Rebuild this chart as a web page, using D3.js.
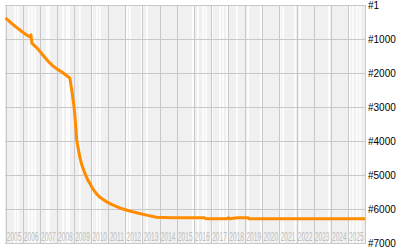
<!DOCTYPE html>
<html>
<head>
<meta charset="utf-8">
<script src="https://cdn.jsdelivr.net/npm/d3@7"></script>
<style>
  body { margin: 0; background: #fff; }
</style>
</head>
<body>
<div id="chart"></div>
<script>
// rank history (decimal years)
const years = [2004.00, 2004.26, 2004.55, 2004.84, 2005.14, 2005.43, 2005.49, 2005.54, 2005.89, 2006.18,
  2006.48, 2006.77, 2007.00, 2007.29, 2007.52, 2007.76, 2007.82, 2007.87, 2007.99, 2008.05,
  2008.11, 2008.16, 2008.34, 2008.46, 2008.63, 2008.81, 2008.92, 2009.10, 2009.33, 2009.50,
  2009.68, 2009.91, 2010.26, 2010.67, 2011.25, 2011.72, 2012.24, 2012.82, 2013.70, 2014.75,
  2015.62, 2015.74, 2016.90, 2017.02, 2017.13, 2017.54, 2018.18, 2018.24, 2025.00];
const ranks = [380, 500, 620, 735, 850, 940, 880, 1120, 1290, 1470,
  1650, 1790, 1880, 1970, 2060, 2150, 2350, 2500, 2940, 3240,
  3620, 3970, 4470, 4710, 4940, 5150, 5240, 5410, 5560, 5650,
  5710, 5790, 5880, 5970, 6060, 6120, 6180, 6240, 6260, 6260,
  6260, 6290, 6290, 6260, 6290, 6260, 6260, 6290, 6290];

// days with no data (white stripes)
const gapYears = [2004.55, 2004.73, 2005.37, 2005.55, 2005.72, 2006.42, 2006.54, 2007.36, 2007.59, 2007.71,
  2008.35, 2009.05, 2009.34, 2009.52, 2011.10, 2011.27, 2011.97, 2012.26, 2014.95, 2015.24,
  2015.54, 2015.71, 2016.06, 2016.53, 2016.71, 2016.94, 2017.52, 2018.17, 2018.92, 2020.03,
  2020.21, 2020.91, 2021.20, 2022.90, 2024.12, 2024.30, 2024.53, 2024.71];

const rankTicks = [1, 1000, 2000, 3000, 4000, 5000, 6000, 7000];
const rankLabels = ['#1', '#1000', '#2000', '#3000', '#4000', '#5000', '#6000', '#7000'];
const yearTicks = d3.range(2004, 2026);
const yearLabels = d3.range(2005, 2026).map(String);

const w = 400, h = 250;
const plotL = 5, plotR = 365, plotT = 5, plotB = 243;

const svg = d3.select('#chart')
  .append('svg')
  .attr('width', w)
  .attr('height', h);

const x = d3.scaleLinear().domain([2004, 2025]).range([plotL + 0.5, plotR]);
const y = d3.scaleLinear().domain([1, 7000]).range([plotT, plotB]);

// background
svg.append('rect')
  .attr('x', plotL).attr('y', plotT)
  .attr('width', plotR - plotL).attr('height', plotB - plotT)
  .style('fill', '#f0f0f0');

svg.append('g').selectAll('rect')
  .data(gapYears)
  .enter()
  .append('rect')
  .attr('x', (d) => x(d) - 0.75)
  .attr('y', plotT)
  .attr('width', 1.5)
  .attr('height', plotB - plotT)
  .style('fill', '#fff');

// grid
const grid = svg.append('g').style('stroke', '#c8c8c8').style('stroke-width', 1);

grid.selectAll('.vline')
  .data(yearTicks)
  .enter()
  .append('line')
  .attr('class', 'vline')
  .attr('x1', (d) => Math.round(x(d)) + 0.5)
  .attr('x2', (d) => Math.round(x(d)) + 0.5)
  .attr('y1', plotT)
  .attr('y2', plotB);

grid.selectAll('.hline')
  .data(rankTicks)
  .enter()
  .append('line')
  .attr('class', 'hline')
  .attr('x1', plotL)
  .attr('x2', plotR + 1)
  .attr('y1', (d) => Math.round(y(d)) + 0.5)
  .attr('y2', (d) => Math.round(y(d)) + 0.5);

// year labels, squeezed sideways into their cells
svg.append('g')
  .selectAll('text')
  .data(yearLabels)
  .enter()
  .append('text')
  .attr('transform', (d) => `translate(${(x(+d - 1) + x(+d)) / 2}, 241) scale(0.55, 1)`)
  .attr('text-anchor', 'middle')
  .style('font-family', 'Liberation Sans, Arial, sans-serif')
  .style('font-size', '12px')
  .style('fill', '#bdbdbd')
  .text((d) => d);

// rank line
const line = d3.line()
  .x((d, i) => x(years[i]))
  .y((d) => y(d));

svg.append('path')
  .attr('d', line(ranks))
  .style('fill', 'none')
  .style('stroke', '#ff8c00')
  .style('stroke-width', 3)
  .style('stroke-linejoin', 'round');

// rank axis on the right
const yAxis = d3.axisRight(y)
  .tickValues(rankTicks)
  .tickSize(0)
  .tickPadding(3)
  .tickFormat((d, i) => rankLabels[i]);

svg.append('g')
  .attr('transform', `translate(${plotR}, 0)`)
  .call(yAxis)
  .call((g) => g.select('.domain').remove())
  .selectAll('text')
  .style('font-family', 'Liberation Sans, Arial, sans-serif')
  .style('font-size', '10px')
  .style('fill', '#000');
</script>
</body>
</html>
